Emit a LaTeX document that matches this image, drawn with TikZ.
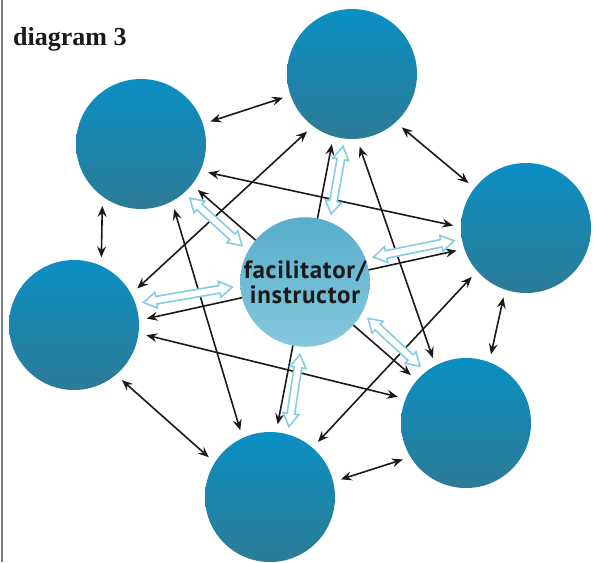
\documentclass[tikz,border=0pt]{standalone}
\usepackage{fontspec}
\setmainfont{Liberation Serif}
\newfontfamily\labelfont{PT Sans}[LetterSpace=3]
\usetikzlibrary{calc,arrows.meta}
\pgfdeclarelayer{bg}
\pgfsetlayers{bg,main}
\definecolor{outtop}{HTML}{0A8FC3}
\definecolor{outbot}{HTML}{2D7B96}
\definecolor{ctrtop}{HTML}{58AECB}
\definecolor{ctrbot}{HTML}{86C8DC}
\definecolor{hollowblue}{HTML}{86CCE2}
\definecolor{ink}{HTML}{1A1A1A}
\definecolor{frame}{HTML}{808080}
\tikzset{
  outer/.style={circle, inner sep=0pt, minimum size=130pt, outer sep=8pt, top color=outtop, bottom color=outbot},
  hub/.style={circle, inner sep=0pt, minimum size=126pt, outer sep=8pt, top color=ctrtop, bottom color=ctrbot,
    align=center, text=ink, font=\labelfont\bfseries\fontsize{25}{25}\selectfont},
  link/.style={draw=ink, line width=1.6pt, {Stealth[length=11pt,width=9pt,inset=4pt]}-{Stealth[length=11pt,width=9pt,inset=4pt]}},
  hollow/.style={draw=hollowblue, fill=white, line width=1.6pt, line join=miter},
  title/.style={anchor=base west, inner sep=0pt, font=\bfseries\fontsize{26}{30}\selectfont, text=ink}
}
\def\hahead{13pt}
\def\hawid{8pt}
\def\hashaft{3.8pt}
\newcommand\hollowarrow[2]{%
  \path (#1) coordinate (haA) (#2) coordinate (haB);
  \path ($(haA)!\hahead!(haB)$) coordinate (haA1) ($(haB)!\hahead!(haA)$) coordinate (haB1);
  \filldraw[hollow] (haA) -- ($(haA1)!\hawid!90:(haB)$) -- ($(haA1)!\hashaft!90:(haB)$)
    -- ($(haB1)!\hashaft!-90:(haA)$) -- ($(haB1)!\hawid!-90:(haA)$) -- (haB)
    -- ($(haB1)!\hawid!90:(haA)$) -- ($(haB1)!\hashaft!90:(haA)$)
    -- ($(haA1)!\hashaft!-90:(haB)$) -- ($(haA1)!\hawid!-90:(haB)$) -- cycle;
}
\begin{document}
\begin{tikzpicture}[x=1pt,y=-1pt]
\useasboundingbox (0,0) rectangle (596,562);
\begin{pgfonlayer}{bg}
\fill[white] (0,0) rectangle (596,562);
\end{pgfonlayer}
\draw[frame, line width=2pt] (1.5,0) coordinate (f1) -- (1.5,562) coordinate (f2);
\node[title] (ttl) at (13,45) {diagram 3};

\node[outer] (T)  at (352,74)  {};
\node[outer] (R)  at (526,228) {};
\node[outer] (LR) at (466,423) {};
\node[outer] (B)  at (270,497) {};
\node[outer] (L)  at (74,325)  {};
\node[outer] (UL) at (141,144) {};
\node[hub]   (C)  at (305,282) {facilitator/\\instructor};

\begin{pgfonlayer}{bg}
\draw[link] (UL.18)  -- (T.199);
\draw[link] (T.313)  -- (R.142);
\draw[link] (UL.238) -- (L.68);
\draw[link] (R.252)  -- (LR.70);
\draw[link] (L.311)  -- (B.147);
\draw[link] (B.14)   -- (LR.210);
\draw[link] (UL.337) -- (R.178);
\draw[link] (UL.297) -- (B.114);
\draw[link] (L.30)   -- (T.232);
\draw[link] (UL.321) -- (LR.139);
\draw[link] (T.276)  -- (LR.117);
\draw[link] (T.254)  -- (B.84);
\draw[link] (L.5)    -- (R.198);
\draw[link] (B.49)   -- (R.222);
\draw[link] (L.352)  -- (LR.159);
\end{pgfonlayer}

\hollowarrow{UL.312}{C.150}
\hollowarrow{T.263}{C.69}
\hollowarrow{R.190}{C.20}
\hollowarrow{L.18}{C.184}
\hollowarrow{B.75}{C.266}
\hollowarrow{LR.129}{C.330}
\end{tikzpicture}
\end{document}
